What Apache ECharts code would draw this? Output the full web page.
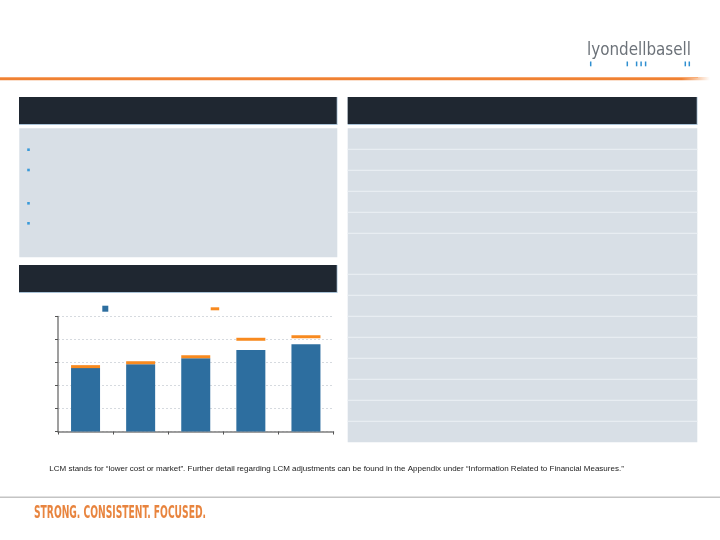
<!DOCTYPE html>
<html>
<head>
<meta charset="utf-8">
<style>
  html, body { margin: 0; padding: 0; background: #ffffff; }
  #chart { width: 720px; height: 540px; }
</style>
<script src="https://cdn.jsdelivr.net/npm/echarts@6/dist/echarts.min.js"></script>
</head>
<body>
<div id="chart"></div>
<script>
// ---- Data ----
var categories = ['1', '2', '3', '4', '5'];
var barValues = [2760, 2920, 3180, 3540, 3790];
var markerValues = [2820, 2990, 3250, 4010, 4120];
var seriesNames = ['EBITDA excluding LCM', 'EBITDA including LCM'];
var yTicks = [0, 1000, 2000, 3000, 4000, 5000];
var footnote = 'LCM stands for \u201clower cost or market\u201d. Further detail regarding LCM adjustments can be found in the Appendix under \u201cInformation Related to Financial Measures.\u201d';
var tagline = 'STRONG. CONSISTENT. FOCUSED.';
var logoText = 'lyondellbasell';

// ---- helpers ----
var mctx = document.createElement('canvas').getContext('2d');
function fitScale(text, font, target) {
  mctx.font = font;
  var w = mctx.measureText(text).width;
  return w > 0 ? target / w : 1;
}

var DARK = '#1f2731';
var PANEL = '#d8dfe6';
var EDGE = '#a9c2d6';

var graphics = [];
// orange header rule
graphics.push({ type: 'rect', shape: { x: 0, y: 77, width: 710, height: 3.2 },
  style: { fill: new echarts.graphic.LinearGradient(0, 0, 1, 0, [
    { offset: 0, color: '#ef8133' }, { offset: 0.96, color: '#ef8133' }, { offset: 1, color: 'rgba(240,132,54,0)' }]) } });
graphics.push({ type: 'rect', shape: { x: 0, y: 77, width: 698, height: 1 }, style: { fill: 'rgba(248,170,115,0.85)' } });

// logo
var logoFont = '18.5px "Liberation Sans Narrow", "DejaVu Sans Condensed", sans-serif';
graphics.push({ type: 'text', x: 587, y: 50, scaleX: fitScale(logoText, logoFont, 104),
  style: { text: logoText, x: 0, y: 0, font: logoFont, fill: '#6c7279', verticalAlign: 'middle', align: 'left' } });
[590.7, 627.3, 636.6, 641.1, 645.6, 685.3, 689.3].forEach(function (x) {
  graphics.push({ type: 'rect', shape: { x: x - 0.75, y: 61.5, width: 1.5, height: 4.8 }, style: { fill: '#2f8fd0' } });
});

// panels
function header(x, y, w, h) {
  graphics.push({ type: 'rect', shape: { x: x, y: y, width: w, height: h + 1 }, style: { fill: EDGE } });
  graphics.push({ type: 'rect', shape: { x: x, y: y, width: w - 0.8, height: h }, style: { fill: DARK } });
}
header(19, 97, 318.5, 27);
header(347.7, 97, 349.8, 27);
header(19, 265, 318.5, 27);

graphics.push({ type: 'rect', shape: { x: 19.3, y: 128.3, width: 318, height: 129 }, style: { fill: PANEL } });
[149.7, 170, 203.3, 223.3].forEach(function (y) {
  graphics.push({ type: 'rect', shape: { x: 27.2, y: y - 1.3, width: 2.6, height: 2.6 }, style: { fill: '#3a9ad9' } });
});

graphics.push({ type: 'rect', shape: { x: 347.7, y: 128.3, width: 349.6, height: 314 }, style: { fill: PANEL } });
[149.3, 170.3, 191.3, 212.3, 233.3, 274.3, 295.3, 316.3, 337.3, 358.3, 379.3, 400.3, 421.3].forEach(function (y) {
  graphics.push({ type: 'rect', shape: { x: 347.7, y: y - 0.6, width: 349.6, height: 1.2 }, style: { fill: '#e8edf2' } });
});

// footnote
graphics.push({ type: 'text', x: 49.3, y: 469,
  style: { text: footnote, x: 0, y: 0, font: '8px "Liberation Sans", Arial, sans-serif', fill: '#1a1a1a', verticalAlign: 'middle', align: 'left' } });
// grey rule
graphics.push({ type: 'rect', shape: { x: 0, y: 496.6, width: 720, height: 1.3 }, style: { fill: '#c4c4c4' } });
// tagline
var tagFont = 'bold 17.5px "Liberation Sans Narrow", "DejaVu Sans Condensed", sans-serif';
graphics.push({ type: 'text', x: 34, y: 513, scaleX: fitScale(tagline, tagFont, 172),
  style: { text: tagline, x: 0, y: 0, font: tagFont, fill: '#e8843e', verticalAlign: 'middle', align: 'left' } });

var option = {
  animation: false,
  backgroundColor: '#ffffff',
  graphic: { elements: graphics },
  legend: [
    { data: [{ name: seriesNames[0], icon: 'rect' }], left: 102.3, top: 305.7, padding: 0,
      itemWidth: 6, itemHeight: 6, formatter: function () { return ''; }, textStyle: { fontSize: 1 }, selectedMode: false },
    { data: [{ name: seriesNames[1], icon: 'rect' }], left: 210.7, top: 307.3, padding: 0,
      itemWidth: 8.5, itemHeight: 3, formatter: function () { return ''; }, textStyle: { fontSize: 1 }, selectedMode: false }
  ],
  grid: { left: 58, top: 316.5, width: 275.5, height: 115, containLabel: false },
  xAxis: {
    type: 'category', data: categories,
    axisLine: { lineStyle: { color: '#7f7f7f', width: 1.5 } },
    axisTick: { show: true, length: 3, lineStyle: { color: '#555555' } },
    axisLabel: { show: false }, splitLine: { show: false }
  },
  yAxis: {
    type: 'value', min: yTicks[0], max: yTicks[yTicks.length - 1], interval: yTicks[1] - yTicks[0],
    axisLine: { show: true, lineStyle: { color: '#7f7f7f', width: 1.5 } },
    axisTick: { show: true, length: 3, lineStyle: { color: '#555555' } },
    axisLabel: { show: false },
    splitLine: { show: true, lineStyle: { color: '#d6dadf', type: [2, 2], width: 1 } }
  },
  series: [
    { name: seriesNames[0], type: 'bar', data: barValues, barWidth: 29,
      itemStyle: { color: '#2d6e9f' }, z: 2 },
    { name: seriesNames[1], type: 'scatter', data: markerValues, symbol: 'rect', symbolSize: [29, 3],
      itemStyle: { color: '#f88a1f', opacity: 1 }, z: 3 }
  ]
};

var chart = echarts.init(document.getElementById('chart'), null, { renderer: 'canvas' });
chart.setOption(option);
</script>
</body>
</html>
